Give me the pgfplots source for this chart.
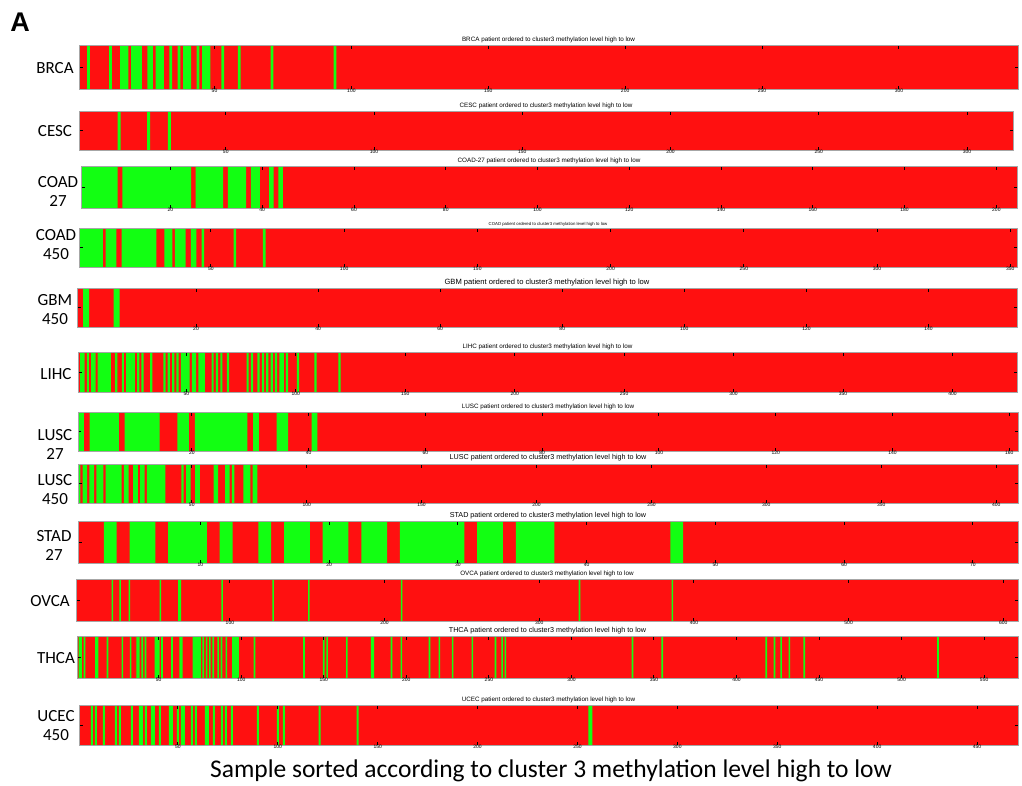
\documentclass[border=0pt]{standalone}
\usepackage{fontspec}
\setmainfont{Carlito}
\newfontfamily\arialfont{Liberation Sans}
\usepackage{pgfplots}
\pgfplotsset{compat=1.18}
\definecolor{myred}{RGB}{255,16,16}
\definecolor{mygreen}{RGB}{18,255,18}
\pgfplotsset{
  panel/.style={anchor=north west, scale only axis,
    axis background/.style={fill=myred},
    ymin=0, ymax=1, ytick={0.5}, yticklabels={},
    axis on top, tick align=inside, major tick length=3.5pt,
    tick style={black, line width=1pt},
    axis line style={gray!70, line width=0.5pt},
    /pgf/number format/assume math mode=true,
    x tick label style={font=\arialfont\fontsize{5}{5}\selectfont, inner sep=1pt, yshift=1.5pt},
    every axis title shift=0pt,
    title style={at={(0.5,1)}, anchor=south, inner sep=0pt, yshift=1.8pt, font=\arialfont\fontsize{6.3}{7}\selectfont},
  },
  greenrun/.style={const plot mark left, fill=mygreen, draw=none, mark=none},
}
\begin{document}
\begin{tikzpicture}
\path[use as bounding box] (0,0) rectangle (1022pt,-785pt);

% BRCA
\begin{axis}[panel, at={(79pt,-45pt)}, width=939pt, height=44pt, xmin=0.5, xmax=343.5,
  xtick={50,100,...,300}, title={BRCA patient ordered to cluster3 methylation level high to low}]
\addplot[greenrun] coordinates {(0.5,0) (3.5,1) (4.5,0) (11.5,1) (12.5,0) (15.5,1) (18.5,0) (19.5,1) (23.5,0) (25.5,1) (27.5,0) (28.5,1) (31.5,0) (33.5,1) (34.5,0) (36.5,1) (37.5,0) (38.5,1) (41.5,0) (43.5,1) (44.5,0) (45.5,1) (48.5,0) (52.5,1) (53.5,0) (58.5,1) (59.5,0) (70.5,1) (71.5,0) (93.5,1) (94.5,0) (343.5,0)} \closedcycle;
\end{axis}

% CESC
\begin{axis}[panel, at={(79pt,-111pt)}, width=934pt, height=39pt, xmin=0.5, xmax=315.5,
  xtick={50,100,...,300}, title={CESC patient ordered to cluster3 methylation level high to low}]
\addplot[greenrun] coordinates {(0.5,0) (13.5,1) (14.5,0) (23.5,1) (24.5,0) (30.5,1) (31.5,0) (315.5,0)} \closedcycle;
\end{axis}

% COAD 27
\begin{axis}[panel, at={(81pt,-166pt)}, width=936pt, height=42pt, xmin=0.5, xmax=204.5,
  xtick={20,40,...,200}, title={COAD-27 patient ordered to cluster3 methylation level high to low}]
\addplot[greenrun] coordinates {(0.5,1) (8.5,0) (9.5,1) (24.5,0) (25.5,1) (31.5,0) (32.5,1) (36.5,0) (37.5,1) (39.5,0) (41.5,1) (42.5,0) (43.5,1) (44.5,0) (204.5,0)} \closedcycle;
\end{axis}

% COAD 450
\begin{axis}[panel, at={(79pt,-228pt)}, width=938pt, height=39pt, xmin=0.5, xmax=352.5,
  xtick={50,100,...,350}, title style={font=\arialfont\fontsize{4.3}{5}\selectfont},
  title={COAD patient ordered to cluster3 methylation level high to low}]
\addplot[greenrun] coordinates {(0.5,1) (9.5,0) (10.5,1) (14.5,0) (16.5,1) (29.5,0) (32.5,1) (35.5,0) (36.5,1) (40.5,0) (42.5,1) (44.5,0) (46.5,1) (47.5,0) (58.5,1) (59.5,0) (69.5,1) (70.5,0) (352.5,0)} \closedcycle;
\end{axis}

% GBM 450
\begin{axis}[panel, at={(77pt,-288pt)}, width=940pt, height=39pt, xmin=0.5, xmax=154.5,
  xtick={20,40,...,140}, title style={font=\arialfont\fontsize{7.6}{8}\selectfont},
  title={GBM patient ordered to cluster3 methylation level high to low}]
\addplot[greenrun] coordinates {(0.5,0) (1.5,1) (2.5,0) (6.5,1) (7.5,0) (154.5,0)} \closedcycle;
\end{axis}

% LIHC
\begin{axis}[panel, at={(78pt,-352pt)}, width=939pt, height=40pt, xmin=0.5, xmax=429.5,
  xtick={50,100,...,400}, title={LIHC patient ordered to cluster3 methylation level high to low}]
\addplot[greenrun] coordinates {(0.5,0) (1.5,1) (3.5,0) (4.5,1) (5.5,0) (6.5,1) (8.5,0) (9.5,1) (15.5,0) (17.5,1) (18.5,0) (20.5,1) (21.5,0) (22.5,1) (26.5,0) (27.5,1) (28.5,0) (29.5,1) (30.5,0) (33.5,1) (34.5,0) (39.5,1) (40.5,0) (41.5,1) (42.5,0) (43.5,1) (44.5,0) (45.5,1) (46.5,0) (47.5,1) (51.5,0) (52.5,1) (54.5,0) (55.5,1) (58.5,0) (61.5,1) (62.5,0) (63.5,1) (64.5,0) (65.5,1) (66.5,0) (68.5,1) (69.5,0) (77.5,1) (78.5,0) (79.5,1) (80.5,0) (82.5,1) (83.5,0) (84.5,1) (85.5,0) (86.5,1) (87.5,0) (88.5,1) (89.5,0) (90.5,1) (91.5,0) (92.5,1) (94.5,0) (95.5,1) (96.5,0) (100.5,1) (101.5,0) (108.5,1) (109.5,0) (119.5,1) (120.5,0) (429.5,0)} \closedcycle;
\end{axis}

% LUSC 27
\begin{axis}[panel, at={(78pt,-412pt)}, width=940pt, height=39pt, xmin=0.5, xmax=161.5,
  xtick={20,40,...,160}, title={LUSC patient ordered to cluster3 methylation level high to low}]
\addplot[greenrun] coordinates {(0.5,1) (1.5,0) (2.5,1) (7.5,0) (8.5,1) (14.5,0) (17.5,1) (19.5,0) (20.5,1) (29.5,0) (30.5,1) (31.5,0) (34.5,1) (36.5,0) (40.5,1) (41.5,0) (161.5,0)} \closedcycle;
\end{axis}

% LUSC 450
\begin{axis}[panel, at={(78pt,-464pt)}, width=940pt, height=39pt, xmin=0.5, xmax=409.5,
  xtick={50,100,...,400}, title style={font=\arialfont\fontsize{7.2}{8}\selectfont, yshift=0.8pt},
  title={LUSC patient ordered to cluster3 methylation level high to low}]
\addplot[greenrun] coordinates {(0.5,1) (1.5,0) (2.5,1) (4.5,0) (5.5,1) (7.5,0) (8.5,1) (11.5,0) (12.5,1) (19.5,0) (20.5,1) (22.5,0) (24.5,1) (26.5,0) (27.5,1) (29.5,0) (30.5,1) (38.5,0) (45.5,1) (46.5,0) (47.5,1) (49.5,0) (51.5,1) (53.5,0) (59.5,1) (61.5,0) (64.5,1) (66.5,0) (67.5,1) (68.5,0) (72.5,1) (75.5,0) (76.5,1) (78.5,0) (409.5,0)} \closedcycle;
\end{axis}

% STAD 27
\begin{axis}[panel, at={(78pt,-521pt)}, width=940pt, height=42pt, xmin=0.5, xmax=73.5,
  xtick={10,20,...,70}, title style={font=\arialfont\fontsize{7.2}{8}\selectfont},
  title={STAD patient ordered to cluster3 methylation level high to low}]
\addplot[greenrun] coordinates {(0.5,0) (2.5,1) (3.5,0) (4.5,1) (6.5,0) (7.5,1) (10.5,0) (11.5,1) (12.5,0) (14.5,1) (15.5,0) (16.5,1) (18.5,0) (19.5,1) (21.5,0) (22.5,1) (24.5,0) (25.5,1) (30.5,0) (31.5,1) (33.5,0) (34.5,1) (37.5,0) (46.5,1) (47.5,0) (73.5,0)} \closedcycle;
\end{axis}

% OVCA
\begin{axis}[panel, at={(76pt,-579pt)}, width=942pt, height=42pt, xmin=0.5, xmax=609.5,
  xtick={100,200,...,600}, title={OVCA patient ordered to cluster3 methylation level high to low}]
\addplot[greenrun] coordinates {(0.5,0) (23.5,1) (24.5,0) (28.5,1) (29.5,0) (34.5,1) (35.5,0) (54.5,1) (55.5,0) (66.5,1) (68.5,0) (94.5,1) (95.5,0) (127.5,1) (128.5,0) (150.5,1) (151.5,0) (210.5,1) (211.5,0) (325.5,1) (326.5,0) (385.5,1) (386.5,0) (609.5,0)} \closedcycle;
\end{axis}

% THCA
\begin{axis}[panel, at={(77pt,-636pt)}, width=941pt, height=42pt, xmin=0.5, xmax=570.5,
  xtick={50,100,...,550}, title style={font=\arialfont\fontsize{7.2}{8}\selectfont},
  title={THCA patient ordered to cluster3 methylation level high to low}]
\addplot[greenrun] coordinates {(0.5,0) (1.5,1) (3.5,0) (4.5,1) (5.5,0) (11.5,1) (13.5,0) (18.5,1) (19.5,0) (27.5,1) (28.5,0) (32.5,1) (33.5,0) (36.5,1) (38.5,0) (39.5,1) (40.5,0) (41.5,1) (42.5,0) (47.5,1) (50.5,0) (51.5,1) (52.5,0) (57.5,1) (58.5,0) (62.5,1) (64.5,0) (70.5,1) (75.5,0) (76.5,1) (77.5,0) (78.5,1) (79.5,0) (80.5,1) (81.5,0) (82.5,1) (83.5,0) (85.5,1) (86.5,0) (87.5,1) (88.5,0) (90.5,1) (91.5,0) (94.5,1) (98.5,0) (107.5,1) (108.5,0) (137.5,1) (138.5,0) (149.5,1) (150.5,0) (151.5,1) (152.5,0) (163.5,1) (164.5,0) (178.5,1) (180.5,0) (190.5,1) (191.5,0) (196.5,1) (197.5,0) (213.5,1) (214.5,0) (219.5,1) (220.5,0) (227.5,1) (228.5,0) (239.5,1) (240.5,0) (253.5,1) (254.5,0) (257.5,1) (258.5,0) (259.5,1) (260.5,0) (336.5,1) (337.5,0) (354.5,1) (355.5,0) (417.5,1) (418.5,0) (422.5,1) (423.5,0) (426.5,1) (427.5,0) (431.5,1) (432.5,0) (440.5,1) (441.5,0) (521.5,1) (522.5,0) (570.5,0)} \closedcycle;
\end{axis}

% UCEC 450
\begin{axis}[panel, at={(79pt,-705pt)}, width=939pt, height=40pt, xmin=0.5, xmax=470.5,
  xtick={50,100,...,450}, title={UCEC patient ordered to cluster3 methylation level high to low}]
\addplot[greenrun] coordinates {(0.5,0) (6.5,1) (7.5,0) (8.5,1) (9.5,0) (12.5,1) (13.5,0) (18.5,1) (19.5,0) (20.5,1) (21.5,0) (26.5,1) (27.5,0) (30.5,1) (32.5,0) (33.5,1) (34.5,0) (36.5,1) (38.5,0) (40.5,1) (41.5,0) (45.5,1) (47.5,0) (49.5,1) (50.5,0) (51.5,1) (53.5,0) (56.5,1) (57.5,0) (58.5,1) (59.5,0) (63.5,1) (65.5,0) (67.5,1) (68.5,0) (71.5,1) (72.5,0) (73.5,1) (74.5,0) (76.5,1) (77.5,0) (89.5,1) (90.5,0) (99.5,1) (100.5,0) (102.5,1) (103.5,0) (120.5,1) (121.5,0) (139.5,1) (140.5,0) (255.5,1) (257.5,0) (470.5,0)} \closedcycle;
\end{axis}

% row labels
\begin{scope}[every node/.style={font=\fontsize{17}{19}\selectfont, align=center, inner sep=0pt}]
\node at (55pt,-68pt) {BRCA};
\node at (55pt,-131pt) {CESC};
\node at (58pt,-191pt) {COAD\\27};
\node at (56pt,-245pt) {COAD\\450};
\node at (55pt,-310pt) {GBM\\450};
\node at (56pt,-374pt) {LIHC};
\node at (55pt,-444pt) {LUSC\\27};
\node at (55pt,-490pt) {LUSC\\450};
\node at (54pt,-545pt) {STAD\\27};
\node at (50pt,-601pt) {OVCA};
\node at (56pt,-658pt) {THCA};
\node at (56pt,-726pt) {UCEC\\450};
\end{scope}
\node[font=\arialfont\bfseries\fontsize{27}{27}\selectfont, inner sep=0pt] at (20pt,-22pt) {A};
\node[font=\fontsize{25.5}{28}\selectfont, inner sep=0pt] at (551pt,-771pt) {Sample sorted according to cluster 3 methylation level high to low};
\end{tikzpicture}
\end{document}
